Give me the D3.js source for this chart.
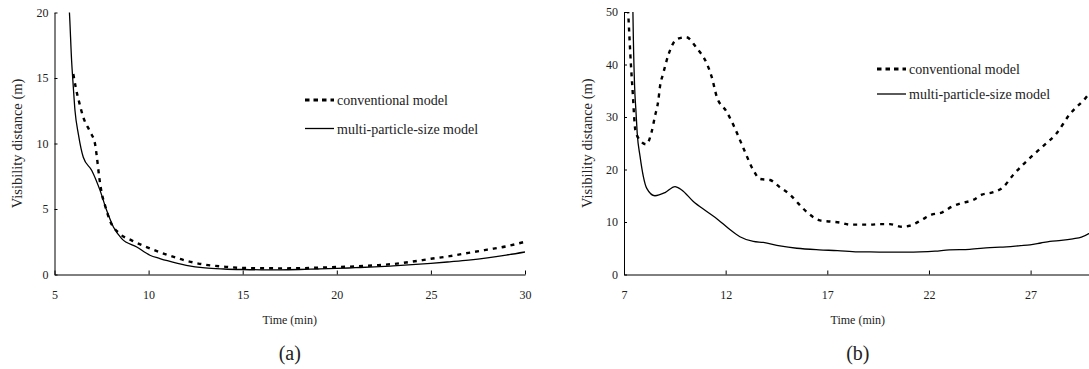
<!DOCTYPE html>
<html>
<head>
<meta charset="utf-8">
<script src="https://cdn.jsdelivr.net/npm/d3@7"></script>
<style>
  body { margin: 0; background: #fff; }
  svg text { font-family: "Liberation Serif", "Times New Roman", "DejaVu Serif", serif; fill: #222; }
</style>
</head>
<body>
<div id="chart"></div>
<script>
// (a) donnees
var timeA_conv = [6.0, 6.14, 6.32, 6.53, 6.89, 7.15, 7.24, 7.38, 7.51, 7.68, 7.95, 8.48, 9.1, 9.72, 10.6, 11, 12, 13, 14, 15, 16, 17, 18, 19, 20, 21, 22, 23, 24, 25, 26, 27, 28, 29, 30];
var convA = [15.3, 14.2, 13.1, 12.0, 10.9, 10.0, 9.1, 7.4, 6.2, 5.3, 4.1, 3.1, 2.6, 2.2, 1.7, 1.5, 1.05, 0.75, 0.6, 0.5, 0.48, 0.47, 0.48, 0.52, 0.57, 0.62, 0.7, 0.8, 0.98, 1.2, 1.4, 1.65, 1.9, 2.15, 2.5];
var timeA_multi = [5.75, 5.79, 5.91, 6.0, 6.09, 6.27, 6.53, 6.98, 7.42, 7.77, 8.13, 8.57, 9.37, 10.07, 10.6, 11, 12, 13, 14, 15, 16, 17, 18, 19, 20, 21, 22, 23, 24, 25, 26, 27, 28, 29, 30];
var multiA = [21, 20.1, 16.3, 14.3, 12.5, 10.7, 8.95, 7.94, 6.42, 4.9, 3.63, 2.74, 2.1, 1.47, 1.22, 1.05, 0.7, 0.5, 0.42, 0.38, 0.36, 0.36, 0.38, 0.42, 0.46, 0.52, 0.58, 0.66, 0.75, 0.85, 0.97, 1.1, 1.27, 1.48, 1.72];

// (b)
var timeB_conv = [7.2, 7.34, 7.44, 7.5, 7.56, 7.8, 8.1, 8.36, 8.52, 8.69, 8.77, 8.93, 9.18, 9.59, 10.05, 10.58, 11.07, 11.31, 11.56, 12.05, 12.38, 12.87, 13.36, 13.69, 14.18, 14.67, 15.17, 15.56, 16.05, 16.64, 17.13, 17.62, 18.12, 19.1, 19.59, 20.08, 20.66, 21.07, 21.64, 22.13, 22.63, 23.12, 23.61, 24.18, 24.6, 25.09, 25.64, 26.15, 27.05, 27.6, 28.28, 28.9, 29.7, 30];
var convB = [50.5, 40, 34, 30, 27.5, 25.5, 24.8, 27.2, 30.1, 33.2, 35.8, 38.3, 41.8, 44.8, 45.2, 43.1, 40.2, 37.7, 33.9, 31.0, 28.5, 24.1, 19.9, 18.2, 18.0, 16.6, 15.2, 13.6, 11.7, 10.3, 10.1, 9.9, 9.5, 9.5, 9.6, 9.6, 9.1, 9.3, 10.4, 11.4, 11.8, 12.9, 13.6, 14.2, 15.2, 15.6, 16.6, 19.0, 22.5, 24.4, 26.9, 30.4, 33.6, 35];
var timeB_multi = [7.43, 7.46, 7.52, 7.59, 7.65, 7.79, 7.95, 8.12, 8.52, 9.02, 9.51, 9.84, 10.41, 11.07, 11.64, 12.13, 12.7, 13.36, 13.85, 14.67, 15.5, 16.6, 17.5, 18.5, 19.1, 20, 21, 21.56, 22.3, 23, 24, 25, 25.5, 26.5, 26.97, 27.5, 27.95, 28.5, 29.08, 29.5, 30];
var multiB = [52, 45, 36, 31, 26.9, 22.5, 18.7, 16.4, 15.0, 15.6, 16.75, 16.1, 13.9, 12.0, 10.4, 8.8, 7.2, 6.3, 6.1, 5.45, 5.0, 4.7, 4.55, 4.3, 4.3, 4.25, 4.25, 4.3, 4.45, 4.7, 4.8, 5.1, 5.2, 5.5, 5.65, 6.0, 6.3, 6.5, 6.8, 7.1, 8.1];

var seriesNames = ["conventional model", "multi-particle-size model"];
var ticksA_x = [5, 10, 15, 20, 25, 30], ticksA_y = [0, 5, 10, 15, 20];
var ticksB_x = [7, 12, 17, 22, 27], ticksB_y = [0, 10, 20, 30, 40, 50];

var serif = "'Liberation Serif', 'Times New Roman', 'DejaVu Serif', serif";

var svg = d3.select("#chart").append("svg")
    .attr("width", 1089)
    .attr("height", 369)
    .attr("font-family", serif);

function zip(t, v) { return t.map(function(d, i) { return [d, v[i]]; }); }

function panel(o) {
  var x = d3.scaleLinear().domain(o.xDomain).range([o.left, o.right]);
  var y = d3.scaleLinear().domain(o.yDomain).range([o.bottom, o.top]);

  svg.append("clipPath").attr("id", o.id)
    .append("rect")
      .attr("x", o.left).attr("y", o.top)
      .attr("width", o.right - o.left).attr("height", o.bottom - o.top);

  // axes
  var gx = svg.append("g")
    .attr("transform", "translate(0," + o.bottom + ")")
    .call(d3.axisBottom(x).tickValues(o.xTicks).tickSizeInner(-4).tickSizeOuter(0).tickPadding(16));
  var gy = svg.append("g")
    .attr("transform", "translate(" + o.left + ",0)")
    .call(d3.axisLeft(y).tickValues(o.yTicks).tickSizeInner(-3).tickSizeOuter(0).tickPadding(6));
  [gx, gy].forEach(function(g) {
    g.attr("font-family", serif).attr("font-size", 12);
    g.selectAll("text").attr("fill", "#222");
    g.selectAll("line,path").attr("stroke", "#000");
  });

  var line = d3.line()
    .x(function(d) { return x(d[0]); })
    .y(function(d) { return y(d[1]); })
    .curve(d3.curveMonotoneX);

  var g = svg.append("g").attr("clip-path", "url(#" + o.id + ")");
  g.append("path")
    .datum(zip(o.tConv, o.conv))
    .attr("d", line)
    .attr("fill", "none").attr("stroke", "#000")
    .attr("stroke-width", 2.4).attr("stroke-dasharray", "4,5");
  g.append("path")
    .datum(zip(o.tMulti, o.multi))
    .attr("d", line)
    .attr("fill", "none").attr("stroke", "#000")
    .attr("stroke-width", 1.3);

  // legende
  var lg = svg.append("g").attr("transform", "translate(" + o.legX + "," + o.legY + ")");
  lg.append("line").attr("x1", 0).attr("x2", 29).attr("y1", 0).attr("y2", 0)
    .attr("stroke", "#000").attr("stroke-width", 3).attr("stroke-dasharray", "4.5,4");
  lg.append("line").attr("x1", 0).attr("x2", 29).attr("y1", o.legGap).attr("y2", o.legGap)
    .attr("stroke", "#000").attr("stroke-width", 1.3);
  lg.selectAll("text.leg").data(seriesNames).enter().append("text")
    .attr("class", "leg")
    .attr("x", 32)
    .attr("y", function(d, i) { return i * o.legGap + 5; })
    .attr("font-size", 14)
    .text(function(d) { return d; });

  // titres
  svg.append("text")
    .attr("x", (o.left + o.right) / 2).attr("y", 324)
    .attr("text-anchor", "middle").attr("font-size", 12)
    .text("Time (min)");
  svg.append("text")
    .attr("transform", "translate(" + o.yLabelX + "," + (o.top + o.bottom) / 2 + ") rotate(-90)")
    .attr("text-anchor", "middle").attr("font-size", 14.5)
    .text("Visibility distance (m)");
  svg.append("text")
    .attr("x", (o.left + o.right) / 2).attr("y", 360)
    .attr("text-anchor", "middle").attr("font-size", 20)
    .text(o.tag);
}

panel({
  id: "clipA", tag: "(a)",
  xDomain: [5, 30], yDomain: [0, 20], left: 54.5, right: 525, top: 12.5, bottom: 274.5,
  xTicks: ticksA_x, yTicks: ticksA_y,
  tConv: timeA_conv, conv: convA, tMulti: timeA_multi, multi: multiA,
  legX: 305, legY: 100, legGap: 28.5, yLabelX: 22
});

panel({
  id: "clipB", tag: "(b)",
  xDomain: [7, 30], yDomain: [0, 50], left: 624, right: 1091.6, top: 12, bottom: 274.5,
  xTicks: ticksB_x, yTicks: ticksB_y,
  tConv: timeB_conv, conv: convB, tMulti: timeB_multi, multi: multiB,
  legX: 877, legY: 69, legGap: 25, yLabelX: 592
});
</script>
</body>
</html>
